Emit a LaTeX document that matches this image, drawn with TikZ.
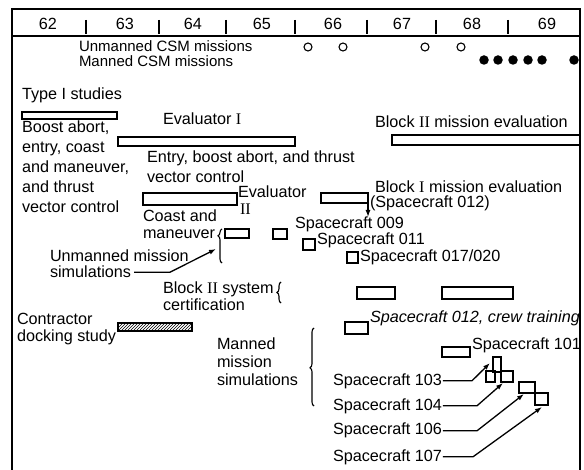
\documentclass[tikz,border=0pt]{standalone}
\usepackage{fontspec}
\setmainfont{Liberation Sans}
\newfontfamily\rnfont{Liberation Serif}
\usetikzlibrary{arrows.meta,patterns,decorations.pathreplacing}
\newcommand\RN[1]{{\rnfont #1}}
\begin{document}
\begin{tikzpicture}[x=1pt,y=-1pt,
  txt/.style={inner sep=0pt, outer sep=0pt, anchor=base west, font=\fontsize{16.2}{20}\selectfont},
  smalltxt/.style={txt, font=\fontsize{15}{16}\selectfont},
  yr/.style={inner sep=0pt, outer sep=0pt, anchor=base, font=\fontsize{16.2}{20}\selectfont},
  bar/.style={draw, line width=1.7pt, inner sep=0pt, outer sep=0pt, anchor=north west},
  hatchbar/.style={bar, pattern=north east lines},
  framel/.style={line width=1.3pt},
  arr/.style={line width=1.3pt, -{Latex[length=7pt,width=5pt]}},
  brc/.style={line width=1.1pt, decorate, decoration={brace, amplitude=4pt, aspect=#1}},
  odot/.style={circle, draw, line width=1.1pt, inner sep=0pt, minimum size=8pt},
  fdot/.style={circle, fill, inner sep=0pt, minimum size=9.5pt}]
\useasboundingbox (0,0) rectangle (584,470);
% frame
\draw[framel] (12,470) -- (12,9) -- (580,9) -- (580,470);
\draw[framel] (12,36) -- (580,36);
\foreach \tx in {86,159,226,295,367,436,508} \draw[line width=1.1pt] (\tx,20) -- (\tx,34);
% years
\node[yr] (y62) at (48,30) {62};
\node[yr] (y63) at (125,30) {63};
\node[yr] (y64) at (193,30) {64};
\node[yr] (y65) at (262,30) {65};
\node[yr] (y66) at (333,30) {66};
\node[yr] (y67) at (402,30) {67};
\node[yr] (y68) at (472,30) {68};
\node[yr] (y69) at (547,30) {69};
% missions
\node[smalltxt] (un) at (79,52) {Unmanned CSM missions};
\node[smalltxt] (mn) at (79,67) {Manned CSM missions};
\node[odot] (o1) at (308,47) {};
\node[odot] (o2) at (343,47) {};
\node[odot] (o3) at (425,47) {};
\node[odot] (o4) at (461,47) {};
\node[fdot] (f1) at (484,60) {};
\node[fdot] (f2) at (498,60) {};
\node[fdot] (f3) at (513,60) {};
\node[fdot] (f4) at (528,60) {};
\node[fdot] (f5) at (542,60) {};
\node[fdot] (f6) at (574,60) {};
% left texts
\node[txt] (ty) at (22,100) {Type I studies};
\node[bar, minimum width=95pt, minimum height=7pt] (bt1) at (22,112) {};
\node[txt] (ba1) at (22,133) {Boost abort,};
\node[txt] (ba2) at (22,153) {entry, coast};
\node[txt] (ba3) at (22,173) {and maneuver,};
\node[txt] (ba4) at (22,193) {and thrust};
\node[txt] (ba5) at (22,213) {vector control};
% evaluator I
\node[txt] (e1) at (163,125) {Evaluator \RN{I}};
\node[bar, minimum width=177pt, minimum height=9pt] (bev1) at (118,137) {};
\node[txt] (eb1) at (147,163) {Entry, boost abort, and thrust};
\node[txt] (eb2) at (147,183) {vector control};
% block II mission evaluation
\node[txt] (b2t) at (375,128) {Block \RN{II} mission evaluation};
\node[bar, minimum width=188pt, minimum height=10pt] (bb2) at (392,135) {};
% evaluator II
\node[bar, minimum width=94pt, minimum height=12pt] (bev2) at (143,193) {};
\node[txt] (ev2a) at (238,198) {Evaluator};
\node[txt] (ev2b) at (240,215) {\RN{II}};
\node[txt] (ca1) at (143,222) {Coast and};
\node[txt] (ca2) at (143,239) {maneuver};
\draw[brc=0.8] (222,263) -- (222,229);
\node[bar, minimum width=24pt, minimum height=9pt] (bca) at (225,229) {};
% block I
\node[bar, minimum width=47pt, minimum height=10pt] (bb1) at (321,193) {};
\node[txt] (b1a) at (375,193) {Block \RN{I} mission evaluation};
\node[txt] (b1b) at (370,208) {(Spacecraft 012)};
\draw[arr] (bb1.south east) -- ++(0,14);
% spacecraft 009 / 011 / 017
\node[bar, minimum width=14pt, minimum height=10pt] (b009) at (273,229) {};
\node[txt] (s009) at (295,229) {Spacecraft 009};
\node[bar, minimum width=12pt, minimum height=11pt] (b011) at (303,239) {};
\node[txt] (s011) at (317,245) {Spacecraft 011};
\node[bar, minimum width=11pt, minimum height=11pt] (b017) at (347,252) {};
\node[txt] (s017) at (360,262) {Spacecraft 017/020};
% unmanned mission simulations
\node[txt] (um1) at (50,262) {Unmanned mission};
\node[txt] (um2) at (50,278) {simulations};
\coordinate (pum) at (216,249);
\draw[arr] ([xshift=3pt]um2.east) -- ++(36,0) -- (pum);
% block II system certification
\node[txt] (bc1) at (163,294) {Block \RN{II} system};
\node[txt] (bc2) at (163,311) {certification};
\draw[brc=0.5] (281,303) -- (281,282);
\node[bar, minimum width=38pt, minimum height=12pt] (bcert1) at (357,287) {};
\node[bar, minimum width=71pt, minimum height=12pt] (bcert2) at (442,287) {};
% contractor docking study
\node[txt] (co1) at (17,325) {Contractor};
\node[txt] (co2) at (17,342) {docking study};
\node[hatchbar, minimum width=74pt, minimum height=8pt] (bdock) at (118,323) {};
% spacecraft 012 crew training
\node[bar, minimum width=23pt, minimum height=12pt] (b012) at (345,322) {};
\node[txt, font=\fontsize{16.2}{20}\selectfont\itshape] (s012) at (370,323) {Spacecraft 012, crew training};
% spacecraft 101
\node[bar, minimum width=28pt, minimum height=10pt] (b101) at (442,347) {};
\node[txt] (s101) at (472,350) {Spacecraft 101};
% manned mission simulations
\node[txt] (mm1) at (217,350) {Manned};
\node[txt] (mm2) at (217,368) {mission};
\node[txt] (mm3) at (217,386) {simulations};
\draw[brc=0.49] (314,406) -- (314,328);
% spacecraft 103..107
\node[bar, minimum width=8pt, minimum height=15pt] (b103a) at (493,357) {};
\node[bar, minimum width=9pt, minimum height=11pt] (b103b) at (486,371) {};
\node[bar, minimum width=12pt, minimum height=11pt] (b104) at (501,371) {};
\node[bar, minimum width=16pt, minimum height=11pt] (b106) at (519,382) {};
\node[bar, minimum width=13pt, minimum height=12pt] (b107) at (535,393) {};
\node[txt] (s103) at (333,385) {Spacecraft 103};
\node[txt] (s104) at (333,410) {Spacecraft 104};
\node[txt] (s106) at (333,435) {Spacecraft 106};
\node[txt] (s107) at (333,461) {Spacecraft 107};
\coordinate (p103) at (490,363);
\coordinate (p104) at (503,383);
\coordinate (p106) at (524,394);
\coordinate (p107) at (542,407);
\draw[arr] ([xshift=1pt]s103.east) -- ++(29,0) -- (p103);
\draw[arr] ([xshift=1pt]s104.east) -- ++(34,0) -- (p104);
\draw[arr] ([xshift=1pt]s106.east) -- ++(34,0) -- (p106);
\draw[arr] ([xshift=1pt]s107.east) -- ++(30,0) -- (p107);
\end{tikzpicture}
\end{document}
